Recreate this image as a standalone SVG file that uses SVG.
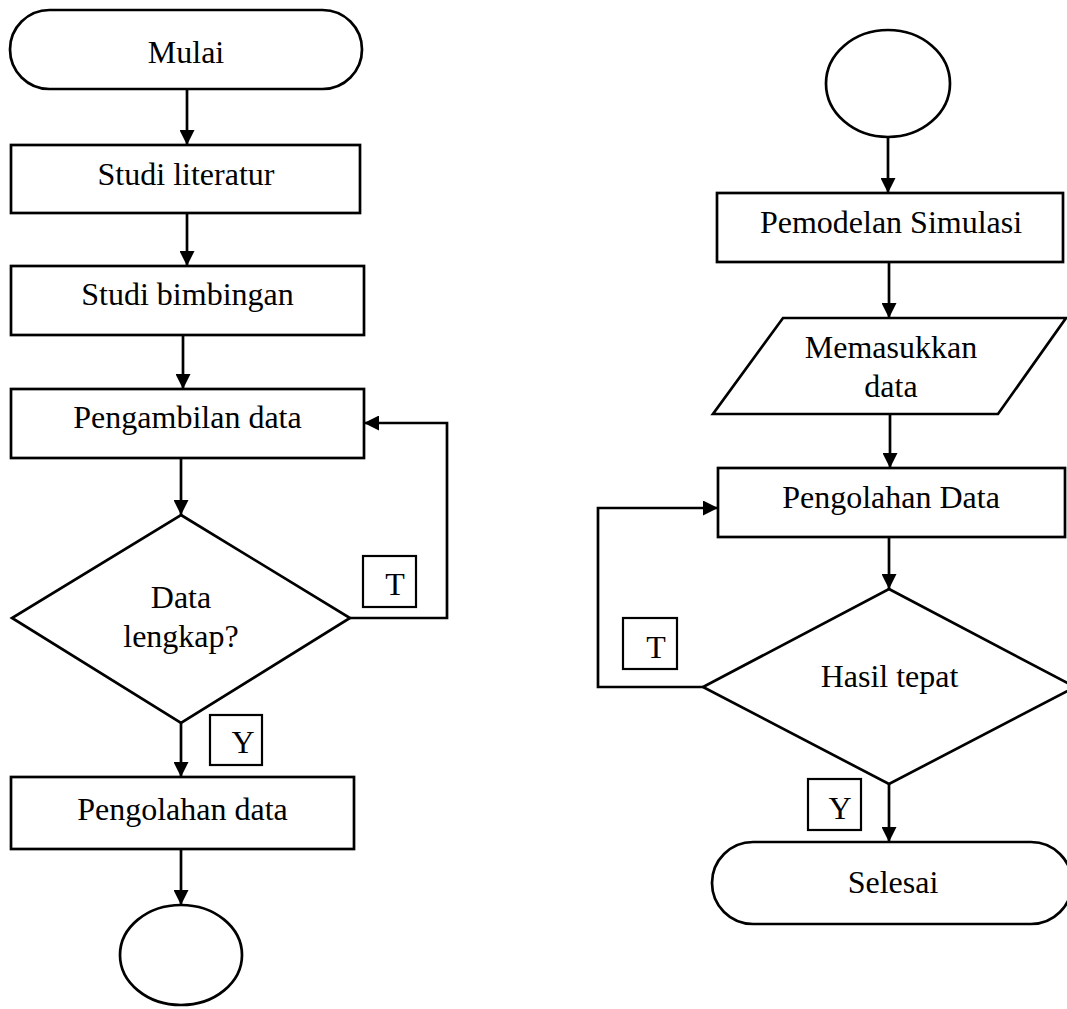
<svg xmlns="http://www.w3.org/2000/svg" width="1067" height="1009" viewBox="0 0 1067 1009">
  <style>
    .shape { fill: #ffffff; stroke: #000000; stroke-width: 2.7; }
    .label { font-family: "Liberation Serif", "Times New Roman", serif; font-size: 32px; fill: #000000; text-anchor: middle; }
    .tag { fill: #ffffff; stroke: #000000; stroke-width: 2.2; }
    .edge { fill: none; stroke: #000000; stroke-width: 2.7; marker-end: url(#arrow); }
  </style>
  <defs>
    <marker id="arrow" markerUnits="userSpaceOnUse" markerWidth="15" markerHeight="15" refX="15" refY="7.5" orient="auto">
      <path d="M0,0 L15,7.5 L0,15 z" fill="#000000"/>
    </marker>
  </defs>
  <rect width="1067" height="1009" fill="#ffffff"/>

  <!-- connectors -->
  <g id="connectors">
    <path class="edge" d="M187,89 V145"/>
    <path class="edge" d="M187,213 V266"/>
    <path class="edge" d="M183,335 V389"/>
    <path class="edge" d="M181,458 V515"/>
    <path class="edge" d="M181,723 V777"/>
    <path class="edge" d="M181,849 V905"/>
    <path class="edge" d="M350,618 H447 V423 H364"/>
    <path class="edge" d="M888,137 V193"/>
    <path class="edge" d="M889,262 V318"/>
    <path class="edge" d="M890,414 V468"/>
    <path class="edge" d="M889,537 V589"/>
    <path class="edge" d="M889,784 V842"/>
    <path class="edge" d="M703,687 H598 V508 H718"/>
  </g>

  <!-- left column -->
  <g id="mulai">
    <rect class="shape" x="10" y="10" width="352" height="79" rx="39.5" ry="39.5"/>
    <text class="label" x="186" y="63">Mulai</text>
  </g>
  <g id="studi-literatur">
    <rect class="shape" x="11" y="145" width="349" height="68"/>
    <text class="label" x="186" y="185">Studi literatur</text>
  </g>
  <g id="studi-bimbingan">
    <rect class="shape" x="11" y="266" width="353" height="69"/>
    <text class="label" x="187.5" y="305">Studi bimbingan</text>
  </g>
  <g id="pengambilan-data">
    <rect class="shape" x="11" y="389" width="353" height="69"/>
    <text class="label" x="187.5" y="428">Pengambilan data</text>
  </g>
  <g id="data-lengkap">
    <polygon class="shape" points="181,515 350,618 181,723 12,618"/>
    <text class="label" x="181" y="608">Data</text>
    <text class="label" x="181" y="647">lengkap?</text>
  </g>
  <g id="tag-t-left">
    <rect class="tag" x="363" y="556" width="53" height="51"/>
    <text class="label" x="395" y="595">T</text>
  </g>
  <g id="tag-y-left">
    <rect class="tag" x="210" y="715" width="52" height="50"/>
    <text class="label" x="243" y="753">Y</text>
  </g>
  <g id="pengolahan-data">
    <rect class="shape" x="11" y="777" width="343" height="72"/>
    <text class="label" x="182.5" y="820">Pengolahan data</text>
  </g>
  <g id="connector-out">
    <ellipse class="shape" cx="181" cy="955" rx="61" ry="50"/>
  </g>

  <!-- right column -->
  <g id="connector-in">
    <ellipse class="shape" cx="888" cy="83.5" rx="62" ry="53.5"/>
  </g>
  <g id="pemodelan-simulasi">
    <rect class="shape" x="717" y="193" width="346" height="69"/>
    <text class="label" x="891" y="233">Pemodelan Simulasi</text>
  </g>
  <g id="memasukkan-data">
    <polygon class="shape" points="783,318 1066,318 998,414 713,414"/>
    <text class="label" x="891" y="358">Memasukkan</text>
    <text class="label" x="891" y="397">data</text>
  </g>
  <g id="pengolahan-data-2">
    <rect class="shape" x="718" y="468" width="347" height="69"/>
    <text class="label" x="891" y="508">Pengolahan Data</text>
  </g>
  <g id="hasil-tepat">
    <polygon class="shape" points="889,589 1075,687 889,784 703,687"/>
    <text class="label" x="889.5" y="687">Hasil tepat</text>
  </g>
  <g id="tag-t-right">
    <rect class="tag" x="623" y="618" width="54" height="51"/>
    <text class="label" x="656" y="658">T</text>
  </g>
  <g id="tag-y-right">
    <rect class="tag" x="808" y="779" width="53" height="51"/>
    <text class="label" x="840" y="819">Y</text>
  </g>
  <g id="selesai">
    <rect class="shape" x="712" y="842" width="360" height="82" rx="41" ry="41"/>
    <text class="label" x="893" y="893">Selesai</text>
  </g>
</svg>
